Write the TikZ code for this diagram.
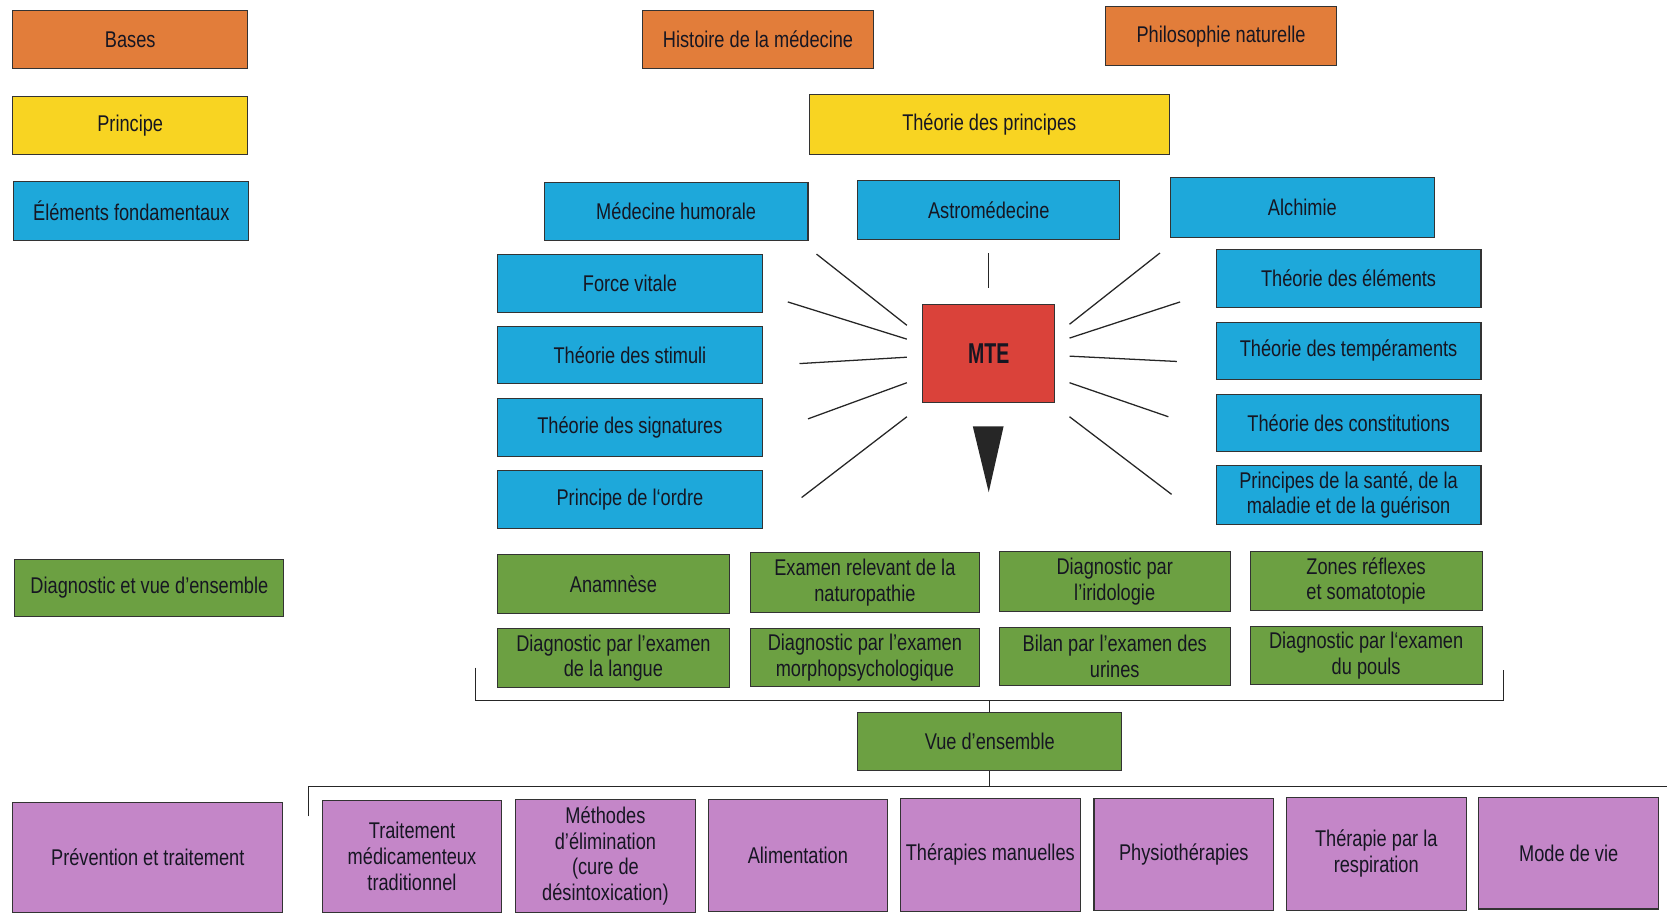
\documentclass[tikz,border=0pt]{standalone}
\usepackage{fontspec}
\setmainfont{Liberation Sans}[FakeStretch=0.8]
\newfontfamily\etroite{Liberation Sans}[UprightFont={* Bold}, FakeStretch=0.68]
\usepackage{xcolor}
\definecolor{cBases}{RGB}{226,125,58}
\definecolor{cPrincipe}{RGB}{248,212,34}
\definecolor{cElements}{RGB}{30,168,218}
\definecolor{cMTE}{RGB}{218,66,58}
\definecolor{cDiag}{RGB}{108,160,66}
\definecolor{cTraitement}{RGB}{196,134,200}
\definecolor{cTexte}{RGB}{22,22,34}

\begin{document}
\begin{tikzpicture}[x=0.5pt, y=-0.5pt,
    boite/.style={draw=black!80, line width=0.5pt, inner sep=0pt, outer sep=0pt,
      align=center, text=cTexte, font=\fontsize{10.7}{12}\selectfont},
    zone/.style n args={4}{minimum width={(#3-#1)*0.5pt},
      minimum height={(#4-#2)*0.5pt}, at={({(#1+#3)/2},{(#2+#4)/2})}},
    bases/.style={boite, fill=cBases},
    principe/.style={boite, fill=cPrincipe},
    elements/.style={boite, fill=cElements},
    diag/.style={boite, fill=cDiag},
    traitement/.style={boite, fill=cTraitement},
    rayon/.style={black!85, line width=0.6pt}]

    \useasboundingbox (0,0) rectangle (1568,860);

    % colonne de gauche
    \node [bases, zone={12}{10}{233}{64}] (bases) {Bases};
    \node [principe, zone={12}{91}{233}{145}] (principe) {Principe};
    \node [elements, zone={13}{171}{234}{226}] (elements) {Éléments fondamentaux};
    \node [diag, zone={14}{526}{267}{580}] (diag) {Diagnostic et vue d’ensemble};
    \node [traitement, zone={12}{755}{266}{858}] (prevention) {Prévention et traitement};

    % bases et principes
    \node [bases, zone={604}{10}{822}{64}] (histoire) {Histoire de la médecine};
    \node [bases, zone={1040}{6}{1257}{62}] (philo) {Philosophie naturelle};
    \node [principe, zone={761}{89}{1100}{145}] (theoprin) {Théorie des principes};

    \node [elements, zone={512}{172}{760}{226}] (humorale) {Médecine humorale};
    \node [elements, zone={807}{170}{1053}{225}] (astro) {Astromédecine};
    \node [elements, zone={1101}{167}{1349}{223}] (alchimie) {Alchimie};

    \node [elements, zone={468}{239}{717}{294}] (force) {Force vitale};
    \node [elements, zone={468}{307}{717}{361}] (stimuli) {Théorie des stimuli};
    \node [elements, zone={468}{375}{717}{429}] (signatures) {Théorie des signatures};
    \node [elements, zone={468}{443}{717}{497}] (ordre) {Principe de l‘ordre};

    \node [elements, zone={1144}{235}{1393}{289}] (theoelem) {Théorie des éléments};
    \node [elements, zone={1144}{303}{1393}{357}] (temper) {Théorie des tempéraments};
    \node [elements, zone={1144}{371}{1393}{425}] (constit) {Théorie des constitutions};
    \node [elements, zone={1144}{438}{1393}{493}] (sante) {Principes de la santé, de la\\maladie et de la guérison};

    % MTE
    \node [boite, fill=cMTE, zone={868}{286}{992}{379},
      font=\etroite\fontsize{13.5}{14}\selectfont] (mte) {MTE};

    \foreach \xa/\ya/\xb/\yb in {930/238/930/271,
        768/239/853/306, 741/284/853/319, 752/342/853/336,
        760/394/853/360, 754/468/853/392,
        1006/305/1091/238, 1006/318/1110/284, 1006/335/1107/340,
        1006/360/1099/392, 1006/392/1102/465}
      \draw [rayon] (\xa,\ya) -- (\xb,\yb);

    \fill [black!85] (915,401) -- (944,401) -- (930,463) -- cycle;

    % diagnostic
    \node [diag, zone={468}{522}{686}{577}] (anamnese) {Anamnèse};
    \node [diag, zone={706}{520}{921}{576}] (examen) {Examen relevant de la\\naturopathie};
    \node [diag, zone={940}{519}{1157}{575}] (iris) {Diagnostic par\\l’iridologie};
    \node [diag, zone={1176}{519}{1394}{574}] (zones) {Zones réflexes\\et somatotopie};

    \node [diag, zone={468}{591}{686}{647}] (langue) {Diagnostic par l’examen\\de la langue};
    \node [diag, zone={706}{591}{921}{646}] (morpho) {Diagnostic par l’examen\\morphopsychologique};
    \node [diag, zone={940}{590}{1157}{645}] (urines) {Bilan par l’examen des\\urines};
    \node [diag, zone={1176}{589}{1394}{644}] (pouls) {Diagnostic par l‘examen\\du pouls};

    \coordinate (crochet1g) at (447,628);
    \coordinate (crochet1d) at (1414,630);
    \coordinate (barre1) at (931,659);
    \draw [rayon] (crochet1g) |- (barre1) -| (crochet1d);

    \node [diag, zone={807}{670}{1055}{725}] (vue) {Vue d’ensemble};
    \draw [rayon] (barre1) -- (vue.north);

    % prevention et traitement
    \coordinate (crochet2g) at (290,768);
    \coordinate (crochet2d) at (1568,740);
    \coordinate (barre2) at (931,740);
    \draw [rayon] (vue.south) -- (barre2);
    \draw [rayon] (crochet2g) |- (crochet2d);

    \node [traitement, zone={303}{753}{472}{858}] (medic) {Traitement\\médicamenteux\\traditionnel};
    \node [traitement, zone={485}{752}{654}{858}] (elimination) {Méthodes\\d’élimination\\(cure de\\désintoxication)};
    \node [traitement, zone={666}{752}{835}{857}] (alimentation) {Alimentation};
    \node [traitement, zone={847}{751}{1016}{857}] (manuelles) {Thérapies manuelles};
    \node [traitement, zone={1029}{751}{1198}{856}] (physio) {Physiothérapies};
    \node [traitement, zone={1210}{750}{1379}{856}] (respiration) {Thérapie par la\\respiration};
    \node [traitement, zone={1391}{750}{1560}{855}] (mode) {Mode de vie};

\end{tikzpicture}
\end{document}
